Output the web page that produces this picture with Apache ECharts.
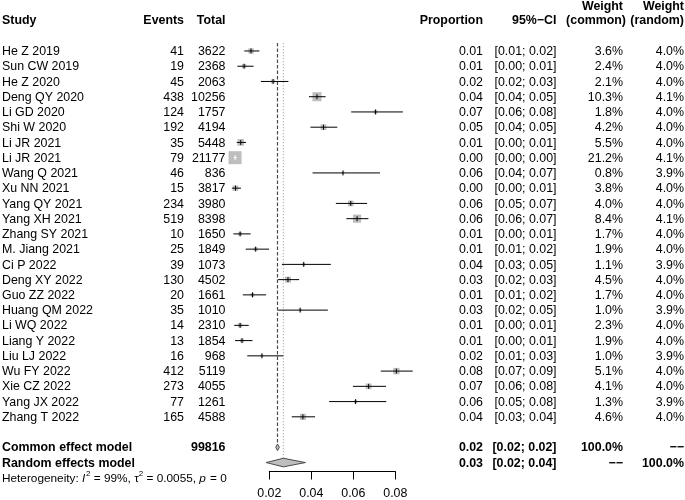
<!DOCTYPE html>
<html><head><meta charset="utf-8">
<script src="https://cdn.jsdelivr.net/npm/echarts@6/dist/echarts.min.js"></script>
<style>html,body{margin:0;padding:0;background:#fff}#c{width:685px;height:500px}</style>
</head><body><div id="c"></div>
<script>
// ---- data ----
const studies = ['He Z 2019','Sun CW 2019','He Z 2020','Deng QY 2020','Li GD 2020','Shi W 2020','Li JR 2021','Li JR 2021','Wang Q 2021','Xu NN 2021','Yang QY 2021','Yang XH 2021','Zhang SY 2021','M. Jiang 2021','Ci P 2022','Deng XY 2022','Guo ZZ 2022','Huang QM 2022','Li WQ 2022','Liang Y 2022','Liu LJ 2022','Wu FY 2022','Xie CZ 2022','Yang JX 2022','Zhang T 2022'];
const events = [41,19,45,438,124,192,35,79,46,15,234,519,10,25,39,130,20,35,14,13,16,412,273,77,165];
const totals = [3622,2368,2063,10256,1757,4194,5448,21177,836,3817,3980,8398,1650,1849,1073,4502,1661,1010,2310,1854,968,5119,4055,1261,4588];
const proportion = [0.0113,0.0080,0.0218,0.0427,0.0706,0.0458,0.0064,0.0037,0.0551,0.0039,0.0588,0.0618,0.0061,0.0135,0.0364,0.0289,0.0120,0.0347,0.0061,0.0070,0.0165,0.0805,0.0673,0.0611,0.0360];
const ciLower = [0.0081,0.0048,0.0160,0.0389,0.0590,0.0396,0.0045,0.0030,0.0406,0.0022,0.0517,0.0567,0.0029,0.0088,0.0260,0.0242,0.0074,0.0242,0.0033,0.0037,0.0095,0.0731,0.0598,0.0485,0.0307];
const ciUpper = [0.0153,0.0125,0.0291,0.0468,0.0836,0.0524,0.0089,0.0046,0.0727,0.0065,0.0666,0.0672,0.0111,0.0199,0.0493,0.0342,0.0185,0.0479,0.0102,0.0120,0.0267,0.0883,0.0756,0.0757,0.0418];
const weightCommon = [3.6,2.4,2.1,10.3,1.8,4.2,5.5,21.2,0.8,3.8,4.0,8.4,1.7,1.9,1.1,4.5,1.7,1.0,2.3,1.9,1.0,5.1,4.1,1.3,4.6];
const weightRandom = [4.0,4.0,4.0,4.1,4.0,4.0,4.0,4.1,3.9,4.0,4.0,4.1,4.0,4.0,3.9,4.0,4.0,3.9,4.0,4.0,3.9,4.0,4.0,3.9,4.0];
const pooledLabels = ['Common effect model','Random effects model'];
const pooledTotal = ['99816',''];
const pooledEst = [0.0239,0.0267];
const pooledLower = [0.0231,0.0185];
const pooledUpper = [0.0248,0.0372];
const pooledWeightCommon = ['100.0%','\u2212\u2212'];
const pooledWeightRandom = ['\u2212\u2212','100.0%'];
const hetI2 = '99%';
const hetTau2 = '0.0055';
const hetP = '0';
const xTicks = [0.02,0.04,0.06,0.08];

// ---- rendering ----
const FF = "'Liberation Sans', Arial, sans-serif";
const FS = 12.4;
const FONT = FS + 'px ' + FF;
const BFONT = 'bold ' + FS + 'px ' + FF;
const ROW_SUMMARY = studies.length + 1; // blank row after studies
const maxW = Math.max.apply(null, weightCommon);
const MAXSQ = 13;
const COL = {study:2, events:184, total:225.5, prop:483, ci:556.5, wc:623, wr:684};
const f2 = v => v.toFixed(2);
const pct = v => v.toFixed(1) + '%';

function txt(text, x, y, align, font) {
  return {type:'text', x:x, y:y, style:{text:text, fill:'#000', font:font||FONT, align:align||'left', verticalAlign:'middle'}};
}

function renderStudy(params, api) {
  const i = params.dataIndex;
  const y = api.coord([0.02, i])[1];
  const xe = api.coord([proportion[i], i])[0];
  const xl = api.coord([ciLower[i], i])[0];
  const xh = api.coord([ciUpper[i], i])[0];
  const s = MAXSQ * Math.sqrt(weightCommon[i] / maxW);
  const inside = xl >= xe - s/2 && xh <= xe + s/2;
  const lc = inside ? '#fff' : '#000';
  const ty = y + 0.7;
  return {type:'group', children:[
    {type:'rect', shape:{x:xe-s/2, y:y-s/2, width:s, height:s}, style:{fill:'#bebebe'}},
    {type:'line', shape:{x1:xl,y1:y,x2:xh,y2:y}, style:{stroke:lc, lineWidth:1}},
    {type:'line', shape:{x1:xe,y1:y-2.5,x2:xe,y2:y+2.5}, style:{stroke:lc, lineWidth:1}},
    txt(studies[i], COL.study, ty, 'left'),
    txt(String(events[i]), COL.events, ty, 'right'),
    txt(String(totals[i]), COL.total, ty, 'right'),
    txt(f2(proportion[i]), COL.prop, ty, 'right'),
    txt('[' + f2(ciLower[i]) + '; ' + f2(ciUpper[i]) + ']', COL.ci, ty, 'right'),
    txt(pct(weightCommon[i]), COL.wc, ty, 'right'),
    txt(pct(weightRandom[i]), COL.wr, ty, 'right')
  ]};
}

const measureCtx = document.createElement('canvas').getContext('2d');
function measure(t, font){ measureCtx.font = font; return measureCtx.measureText(t).width; }

function renderStatic(params, api) {
  const ch = [];
  const rowY = r => api.coord([0.02, r])[1];
  // headers
  const h1 = rowY(-2.9), h2 = rowY(-2.0) + 0.5;
  ch.push(txt('Study', COL.study, h2, 'left', BFONT));
  ch.push(txt('Events', COL.events, h2, 'right', BFONT));
  ch.push(txt('Total', COL.total, h2, 'right', BFONT));
  ch.push(txt('Proportion', COL.prop, h2, 'right', BFONT));
  ch.push(txt('95%\u2212CI', COL.ci, h2, 'right', BFONT));
  ch.push(txt('Weight', COL.wc, h1, 'right', BFONT));
  ch.push(txt('(common)', COL.wc + 3, h2, 'right', BFONT));
  ch.push(txt('Weight', COL.wr, h1, 'right', BFONT));
  ch.push(txt('(random)', COL.wr, h2, 'right', BFONT));
  // reference lines
  const top = rowY(-0.52);
  const xc = api.coord([pooledEst[0], 0])[0];
  const xr = api.coord([pooledEst[1], 0])[0];
  ch.push({type:'line', shape:{x1:xr,y1:top,x2:xr,y2:rowY(ROW_SUMMARY + 0.75)}, style:{stroke:'#a8a8a8', lineWidth:1, lineDash:[1.2,1.8]}});
  ch.push({type:'line', shape:{x1:xc,y1:top,x2:xc,y2:rowY(ROW_SUMMARY - 0.25)}, style:{stroke:'#4a4a4a', lineWidth:1.2, lineDash:[3.5,2]}});
  // pooled rows
  const hh = [3.3, 4.3];
  for (let k = 0; k < 2; k++) {
    const r = ROW_SUMMARY + k;
    const y = rowY(r), ty = y + 0.7;
    const xl = api.coord([pooledLower[k], r])[0];
    const xe = api.coord([pooledEst[k], r])[0];
    const xh = api.coord([pooledUpper[k], r])[0];
    ch.push({type:'polygon', shape:{points:[[xl,y],[xe,y-hh[k]],[xh,y],[xe,y+hh[k]]]}, style:{fill:'#bebebe', stroke:'#4a4a4a', lineWidth:1}});
    ch.push(txt(pooledLabels[k], COL.study, ty, 'left', BFONT));
    if (pooledTotal[k]) ch.push(txt(pooledTotal[k], COL.total, ty, 'right', BFONT));
    ch.push(txt(f2(pooledEst[k]), COL.prop, ty, 'right', BFONT));
    ch.push(txt('[' + f2(pooledLower[k]) + '; ' + f2(pooledUpper[k]) + ']', COL.ci, ty, 'right', BFONT));
    ch.push(txt(pooledWeightCommon[k], COL.wc, ty, 'right', BFONT));
    ch.push(txt(pooledWeightRandom[k], COL.wr, ty, 'right', BFONT));
  }
  // heterogeneity
  const hs = 11.8;
  const nf = hs + 'px ' + FF, itf = 'italic ' + hs + 'px ' + FF, sf = '8px ' + FF;
  const parts = [
    ['Heterogeneity: ', nf, 0], ['I', itf, 0], ['2', sf, -4.5], [' = ' + hetI2 + ', ', nf, 0],
    ['\u03c4', nf, 0], ['2', sf, -4.5], [' = ' + hetTau2 + ', ', nf, 0], ['p', itf, 0], [' = ' + hetP, nf, 0]
  ];
  let x = COL.study;
  const hy = rowY(ROW_SUMMARY + 2) + 0.7;
  parts.forEach(p => {
    ch.push(txt(p[0], x, hy + p[2], 'left', p[1]));
    x += measure(p[0], p[1]) + (p[1] === itf ? 0.8 : 0);
  });
  return {type:'group', children:ch};
}

const chart = echarts.init(document.getElementById('c'), null, {renderer:'canvas'});
const ROW_PX = 15.25, ROW0_PX = 51, AXIS_PX = 471.7;
const yMin = -ROW0_PX / ROW_PX;
const yMax = yMin + AXIS_PX / ROW_PX;
chart.setOption({
  animation:false,
  backgroundColor:'#fff',
  grid:{left:269.3, right:685-395.3, top:0, bottom:500-AXIS_PX, containLabel:false},
  xAxis:{type:'value', position:'bottom', min:xTicks[0], max:xTicks[xTicks.length-1], interval:0.02,
    axisLine:{show:true, onZero:false, lineStyle:{color:'#000', width:1}},
    axisTick:{show:true, length:8, lineStyle:{color:'#000', width:1}},
    axisLabel:{color:'#000', fontSize:FS, fontFamily:FF, margin:16.5, formatter:v => v.toFixed(2)},
    splitLine:{show:false}},
  yAxis:{type:'value', inverse:true, min:yMin, max:yMax, show:false},
  series:[
    {type:'custom', clip:false, renderItem:renderStudy, data:studies.map((s,i)=>[proportion[i], i]), z:3},
    {type:'custom', clip:false, renderItem:renderStatic, data:[[0.02,0]], z:2}
  ]
});
</script></body></html>
